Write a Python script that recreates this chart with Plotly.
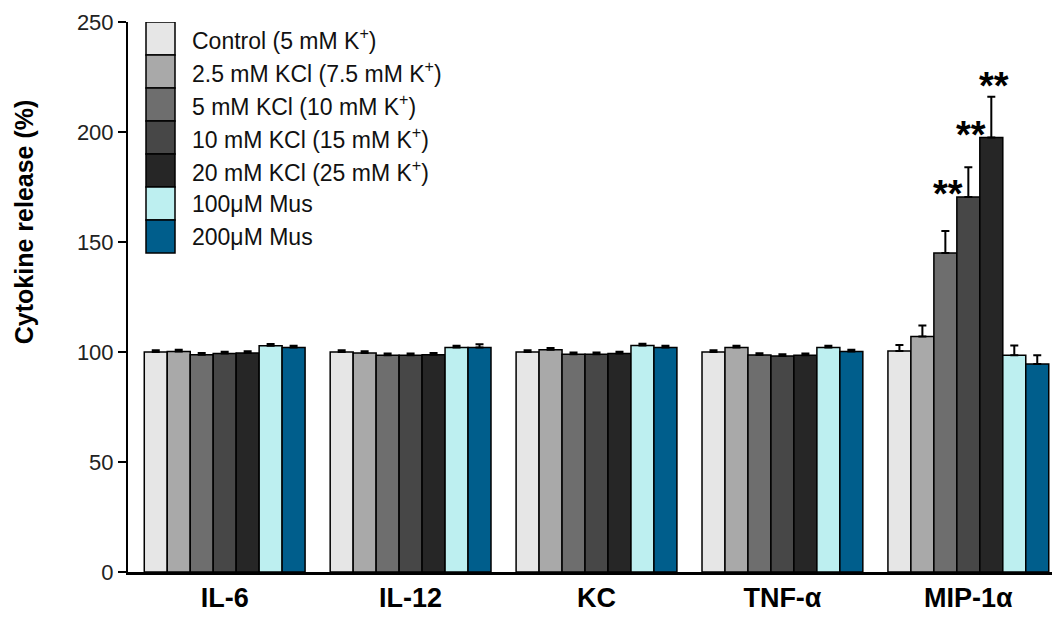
import plotly.graph_objects as go

categories = ["IL-6", "IL-12", "KC", "TNF-α", "MIP-1α"]
series_names = [
    "Control (5 mM K<sup>+</sup>)",
    "2.5 mM KCl (7.5 mM K<sup>+</sup>)",
    "5 mM KCl (10 mM K<sup>+</sup>)",
    "10 mM KCl (15 mM K<sup>+</sup>)",
    "20 mM KCl (25 mM K<sup>+</sup>)",
    "100μM Mus",
    "200μM Mus",
]
colors = ["#e6e6e6", "#a9a9a9", "#6e6e6e", "#474747", "#262626", "#bdeff0", "#005e8c"]

values = [
    [100.0, 100.0, 100.0, 100.0, 100.5],   # Control
    [100.2, 99.5, 101.0, 102.0, 107.0],    # 2.5 mM KCl
    [98.8, 98.5, 99.0, 98.6, 145.0],       # 5 mM KCl
    [99.3, 98.5, 99.0, 98.2, 170.5],       # 10 mM KCl
    [99.5, 98.8, 99.3, 98.5, 197.5],       # 20 mM KCl
    [102.8, 102.0, 103.0, 102.0, 98.5],    # 100 µM Mus
    [102.0, 102.0, 102.0, 100.2, 94.5],    # 200 µM Mus
]
errors = [
    [0.8, 0.8, 0.8, 0.8, 2.7],
    [0.8, 0.8, 0.8, 0.8, 5.0],
    [0.8, 0.8, 0.8, 0.8, 10.0],
    [0.8, 0.8, 0.8, 0.8, 13.5],
    [0.8, 0.8, 0.8, 0.8, 18.5],
    [0.8, 0.8, 0.8, 0.8, 4.5],
    [0.8, 1.5, 0.8, 0.8, 4.0],
]
# significance marks: (category, series index, label, y position)
sig_marks = [("MIP-1α", 2, "**", 174), ("MIP-1α", 3, "**", 201), ("MIP-1α", 4, "**", 223)]

FONT = "Arial, Liberation Sans, sans-serif"
fig = go.Figure()
for name, col, vals, errs in zip(series_names, colors, values, errors):
    fig.add_trace(go.Bar(
        x=categories, y=vals, name=name,
        marker=dict(color=col, line=dict(color="#000000", width=1.5)),
        error_y=dict(type="data", array=errs, arrayminus=[0] * len(errs), symmetric=False,
                     color="#000000", thickness=2, width=4),
        showlegend=False,
    ))

L, R, T, B = 128, 2, 22, 51
W, H = 1054, 623
plot_w = W - L - R
xr = [-0.52, 4.45]
n = len(series_names)
bargap = 0.135
cat_px = plot_w / (xr[1] - xr[0])
bar_px = cat_px * (1 - bargap) / n

annotations = []
for cat, idx, label, yv in sig_marks:
    annotations.append(dict(
        x=cat, y=yv, xref="x", yref="y", text=f"<b>{label}</b>", showarrow=False,
        xshift=(idx - (n - 1) / 2) * bar_px + 3, yshift=-5, yanchor="middle",
        font=dict(family=FONT, size=38, color="#000000"),
    ))

# custom legend: stacked swatches
sw_h = 15
top = 250
x0 = (146 - L) / plot_w
x1 = (175 - L) / plot_w
shapes = []
for i, (name, col) in enumerate(zip(series_names, colors)):
    y1 = top - i * sw_h
    y0 = y1 - sw_h
    shapes.append(dict(type="rect", xref="paper", yref="y", x0=x0, x1=x1, y0=y0, y1=y1,
                       fillcolor=col, line=dict(color="#000000", width=1.5), layer="above"))
    annotations.append(dict(x=(190 - L) / plot_w, y=(y0 + y1) / 2, xref="paper", yref="y",
                            text=name, showarrow=False, xanchor="left", yanchor="middle",
                            font=dict(family=FONT, size=23, color="#111111")))

annotations.append(dict(x=(24 - L) / plot_w, y=159, xref="paper", yref="y",
                        text="<b>Cytokine release (%)</b>", textangle=-90, showarrow=False,
                        xanchor="center", yanchor="middle",
                        font=dict(family=FONT, size=25, color="#000000")))

fig.update_layout(
    width=W, height=H,
    margin=dict(l=L, r=R, t=T, b=B),
    paper_bgcolor="white", plot_bgcolor="white",
    barmode="group", bargap=bargap, bargroupgap=0,
    annotations=annotations, shapes=shapes,
    font=dict(family=FONT, color="#000000"),
)
fig.update_xaxes(
    range=xr, showline=True, linecolor="#000000", linewidth=2.5, ticks="",
    tickfont=dict(family=FONT, size=27, color="#000000"),
    tickvals=categories, ticktext=[f"<b>{c}</b>" for c in categories],
    showgrid=False, zeroline=False,
)
fig.update_yaxes(
    range=[0, 250], tickvals=[0, 50, 100, 150, 200, 250], showline=True, linecolor="#000000",
    linewidth=2, ticks="outside", ticklen=8, tickwidth=2, tickcolor="#000000",
    tickfont=dict(family=FONT, size=22, color="#222222"), showgrid=False, zeroline=False,
)
fig.write_html("out.html")
